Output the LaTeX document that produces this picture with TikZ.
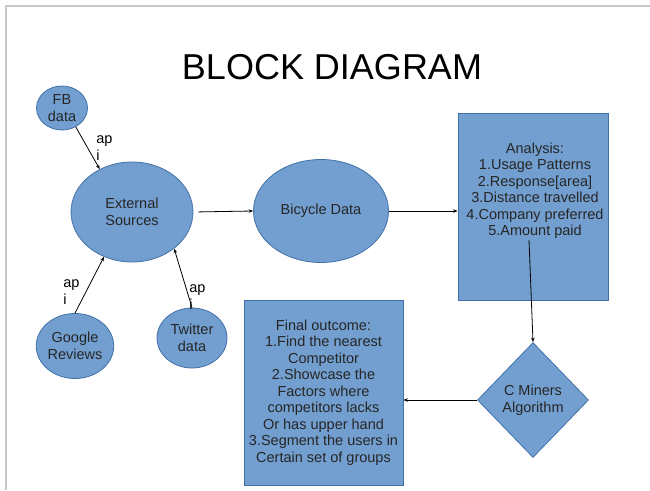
\documentclass[tikz,border=0pt]{standalone}
\usepackage{fontspec}
\setmainfont{Liberation Sans}
\usetikzlibrary{shapes.geometric,arrows.meta}
\definecolor{blockfill}{RGB}{114,159,207}
\definecolor{blockline}{RGB}{65,113,168}
\definecolor{framegray}{RGB}{200,200,200}

\begin{document}
\begin{tikzpicture}[x=1pt,y=-1pt,->,>={Stealth[length=4.5pt,width=3.5pt]},
                    line width=0.8pt,font=\fontsize{14.5}{16.5}\selectfont,
                    blob/.style={ellipse,draw=blockline,fill=blockfill,inner sep=0pt,
                                 align=center,text=black!85},
                    block/.style={rectangle,draw=blockline,fill=blockfill,inner sep=0pt,
                                  align=center,text=black!85},
                    decision/.style={diamond,aspect=1,draw=blockline,fill=blockfill,
                                     inner sep=0pt,align=center,text=black!85},
                    api/.style={anchor=west,align=left,inner sep=0pt}]

        \useasboundingbox (0,0) rectangle (650,490);
        % slide frame
        \draw[-,framegray,line width=1.5pt] (6,490) -- (6,6) -- (650,6);

        \node (title) at (332,67) {\fontsize{36}{40}\selectfont BLOCK DIAGRAM};

        % Define blocks
        \node[blob,minimum width=51,minimum height=44] (fb) at (62,108) {FB\\data};
        \node[blob,minimum width=122,minimum height=100] (ext) at (132,212) {External\\Sources};
        \node[blob,minimum width=135,minimum height=103] (bike) at (321,211) {Bicycle Data};
        \node[blob,minimum width=69,minimum height=65] (google) at (75,346) {Google\\Reviews};
        \node[blob,minimum width=70,minimum height=60] (twitter) at (192,338) {Twitter\\data};
        \node[block,minimum width=150,minimum height=187] (analysis) at (533,206.5) {};
        \node[align=center,inner sep=0pt,text=black!85] (analysis text) at (535,190.5)
            {Analysis:\\1.Usage Patterns\\2.Response[area]\\3.Distance travelled\\
             4.Company preferred\\5.Amount paid};
        \node[decision,minimum width=111,minimum height=115] (algo) at (533,400)
            {C Miners\\Algorithm};
        \node[block,minimum width=159,minimum height=185] (final) at (323.5,392.5)
            {Final outcome:\\1.Find the nearest\\Competitor\\2.Showcase the\\
             Factors where\\competitors lacks\\Or has upper hand\\3.Segment the users in\\
             Certain set of groups};
        \coordinate (anaout) at (529,240);

        % api labels
        \node[api] (fbapi) at (96,148) {ap\\i};
        \node[api] (googleapi) at (63,292) {ap\\i};
        \node[api] (twitterapi) at (189,297) {ap\\i};

        % Draw connectors
        \path
            (fb.-54) edge (ext.127)
            (google.north) edge (ext.-122)
            (twitter.north) edge (ext.-41)
            (ext.east) edge[shorten <=5pt] (bike.west)
            (bike.east) edge (bike.east -| analysis.west)
            (anaout) edge (algo.north)
            (algo.west) edge (algo.west -| final.east);

\end{tikzpicture}
\end{document}
